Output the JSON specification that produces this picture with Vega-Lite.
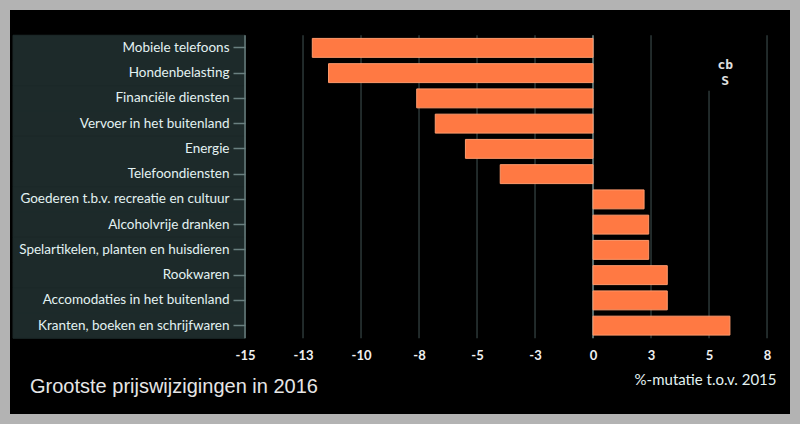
{
  "$schema": "https://vega.github.io/schema/vega-lite/v6.json",
  "width": 780,
  "height": 404,
  "autosize": {"type": "none"},
  "padding": 10,
  "background": "#b3b3b3",
  "config": {"view": {"fill": "#000000", "stroke": null}, "font": "Lato"},
  "title": {"text": "Grootste prijswijzigingen in 2016", "orient": "bottom", "anchor": "start", "frame": "group", "offset": -37, "dx": 20, "font": "Liberation Sans", "fontSize": 20, "fontWeight": "normal", "color": "#e6e6e6"},
  "datasets": {
    "bars": [
      {"cat": "Mobiele telefoons", "value": -12.1},
      {"cat": "Hondenbelasting", "value": -11.4},
      {"cat": "Financiële diensten", "value": -7.6},
      {"cat": "Vervoer in het buitenland", "value": -6.8},
      {"cat": "Energie", "value": -5.5},
      {"cat": "Telefoondiensten", "value": -4.0},
      {"cat": "Goederen t.b.v. recreatie en cultuur", "value": 2.2},
      {"cat": "Alcoholvrije dranken", "value": 2.4},
      {"cat": "Spelartikelen, planten en huisdieren", "value": 2.4},
      {"cat": "Rookwaren", "value": 3.2},
      {"cat": "Accomodaties in het buitenland", "value": 3.2},
      {"cat": "Kranten, boeken en schrijfwaren", "value": 5.9}
    ],
    "grid": [{"g": -12.5}, {"g": -10}, {"g": -7.5}, {"g": -5}, {"g": -2.5}, {"g": 2.5}, {"g": 7.5}],
    "grid5": [{"g": 5}],
    "zero": [{"g": 0}],
    "edge": [{"g": -15}],
    "logo": [{"g": 5.7, "t": ["cb", "S"]}]
  },
  "encoding": {
    "y": {
      "field": "cat", "type": "nominal", "sort": null,
      "scale": {"type": "band", "domain": [" top", "Mobiele telefoons", "Hondenbelasting", "Financiële diensten", "Vervoer in het buitenland", "Energie", "Telefoondiensten", "Goederen t.b.v. recreatie en cultuur", "Alcoholvrije dranken", "Spelartikelen, planten en huisdieren", "Rookwaren", "Accomodaties in het buitenland", "Kranten, boeken en schrijfwaren", " b1", " b2", " b3"], "paddingInner": 0, "paddingOuter": 0},
      "axis": {"title": null, "orient": "left", "offset": -235, "domain": false, "ticks": true, "tickSize": 12, "tickColor": "#6a8080", "tickWidth": 1.5, "labelPadding": 4, "labelFont": "Lato", "labelFontSize": 13.5, "labelColor": "#e3f2f2", "labelLimit": 400, "values": ["Mobiele telefoons", "Hondenbelasting", "Financiële diensten", "Vervoer in het buitenland", "Energie", "Telefoondiensten", "Goederen t.b.v. recreatie en cultuur", "Alcoholvrije dranken", "Spelartikelen, planten en huisdieren", "Rookwaren", "Accomodaties in het buitenland", "Kranten, boeken en schrijfwaren"]}
    }
  },
  "layer": [
    {
      "data": {"name": "bars"},
      "mark": {"type": "rect", "fill": "#1d2a2a", "stroke": "#1d2a2a", "strokeWidth": 1},
      "encoding": {
        "x": {"datum": -25.0, "type": "quantitative"},
        "x2": {"datum": -15}
      }
    },
    {
      "data": {"name": "grid"},
      "mark": {"type": "rule", "color": "#2c3838", "strokeWidth": 1.5},
      "encoding": {
        "x": {"field": "g", "type": "quantitative"},
        "y": {"datum": "Mobiele telefoons", "bandPosition": 0},
        "y2": {"datum": "Kranten, boeken en schrijfwaren", "bandPosition": 1}
      }
    },
    {
      "data": {"name": "grid5"},
      "mark": {"type": "rule", "color": "#2c3838", "strokeWidth": 1.5},
      "encoding": {
        "x": {"field": "g", "type": "quantitative"},
        "y": {"datum": "Financiële diensten", "bandPosition": 0.2},
        "y2": {"datum": "Kranten, boeken en schrijfwaren", "bandPosition": 1}
      }
    },
    {
      "data": {"name": "zero"},
      "mark": {"type": "rule", "color": "#5a6e6e", "strokeWidth": 2},
      "encoding": {
        "x": {"field": "g", "type": "quantitative"},
        "y": {"datum": "Mobiele telefoons", "bandPosition": 0},
        "y2": {"datum": "Kranten, boeken en schrijfwaren", "bandPosition": 1}
      }
    },
    {
      "data": {"name": "edge"},
      "mark": {"type": "rule", "color": "#6a8080", "strokeWidth": 1.5},
      "encoding": {
        "x": {"field": "g", "type": "quantitative"},
        "y": {"datum": "Mobiele telefoons", "bandPosition": 0},
        "y2": {"datum": "Kranten, boeken en schrijfwaren", "bandPosition": 1}
      }
    },
    {
      "data": {"name": "bars"},
      "mark": {"type": "bar", "height": {"band": 0.75}, "fill": "#ff7943", "stroke": "#ff9a6c", "strokeWidth": 1},
      "encoding": {
        "x": {
          "field": "value", "type": "quantitative",
          "scale": {"domain": [-25.13, 8.49], "nice": false, "zero": false},
          "axis": {"orient": "bottom", "offset": -75, "values": [-15, -12.5, -10, -7.5, -5, -2.5, 0, 2.5, 5, 7.5], "grid": false, "ticks": false, "domain": false, "labelPadding": 10, "labelFont": "Lato", "labelFontSize": 13, "labelFontWeight": "bold", "labelColor": "#f0f0f0", "labelExpr": "(datum.value < 0 ? '-' : '') + format(abs(datum.value), '.0f')", "title": "%-mutatie t.o.v. 2015", "titleX": 766, "titleY": 40, "titleAlign": "right", "titleBaseline": "middle", "titleFont": "Lato", "titleFontSize": 15, "titleFontWeight": "normal", "titleColor": "#e3f2f2"}
        }
      }
    },
    {
      "data": {"name": "logo"},
      "mark": {"type": "text", "fontSize": 13, "fontWeight": "bold", "color": "#e0e0e0", "lineHeight": 16, "baseline": "middle", "font": "DejaVu Sans Mono", "dy": 4},
      "encoding": {
        "x": {"field": "g", "type": "quantitative"},
        "y": {"datum": "Hondenbelasting", "bandPosition": 0},
        "text": {"field": "t"}
      }
    }
  ]
}
